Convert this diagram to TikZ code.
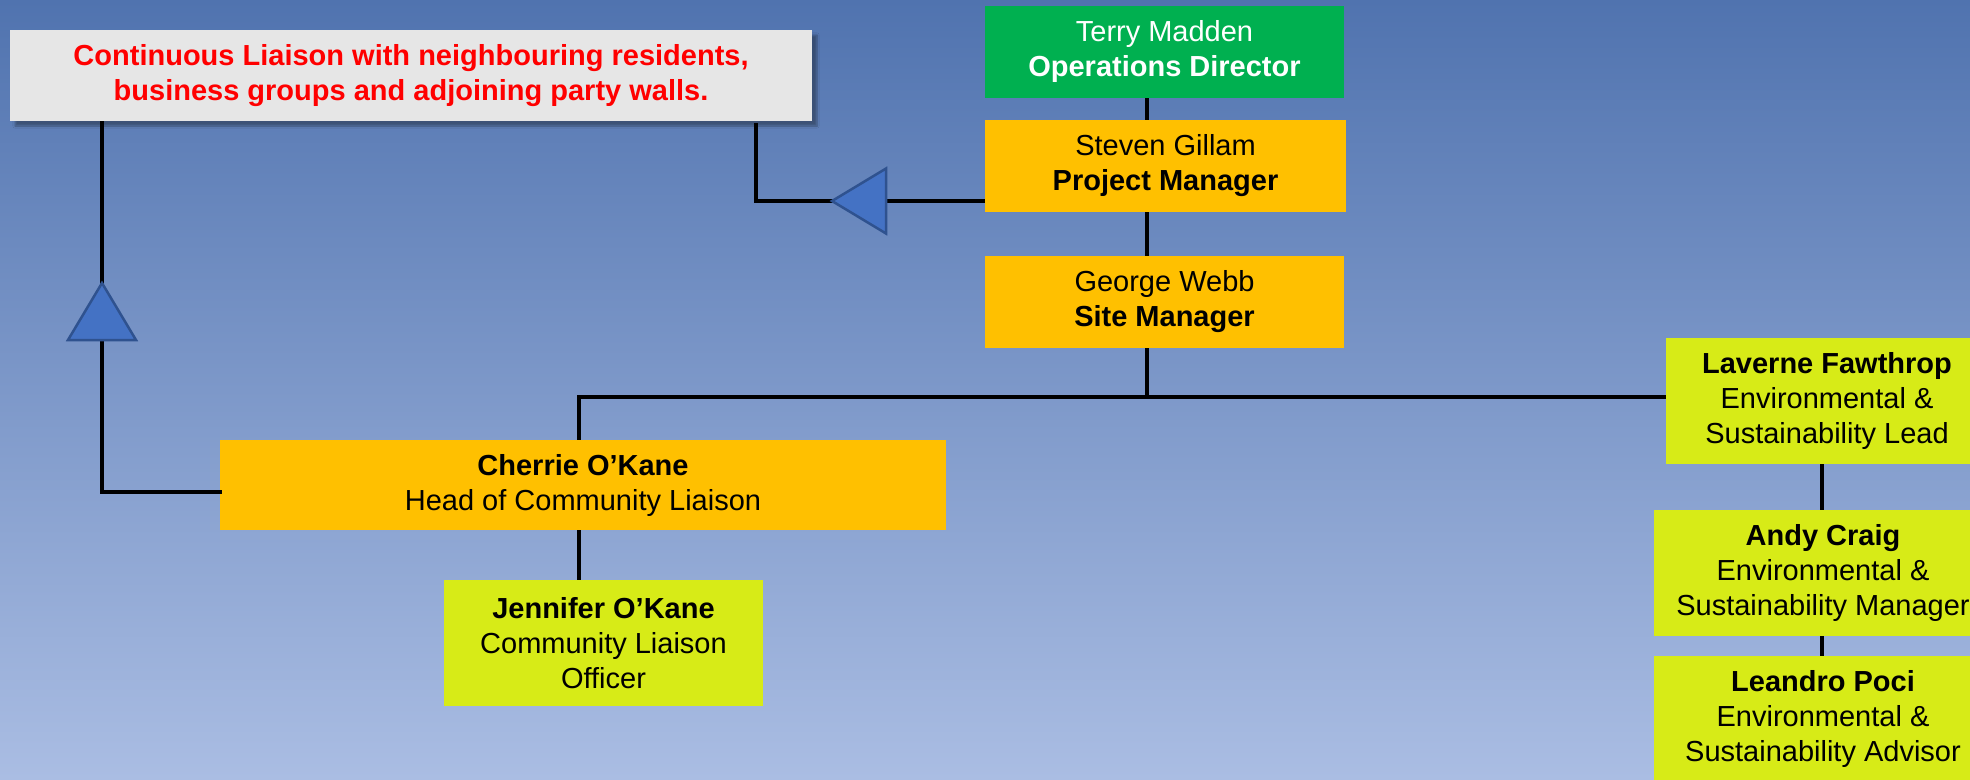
\documentclass[tikz,border=0pt]{standalone}
\usepackage{fontspec}
\setmainfont{Liberation Sans}
\usetikzlibrary{shadows.blur}
\definecolor{bgtop}{HTML}{5073AF}
\definecolor{bgmid}{HTML}{8FAADB}
\definecolor{bgbot}{HTML}{AABDE3}
\definecolor{dirgreen}{HTML}{00B050}
\definecolor{mgrorange}{HTML}{FFC000}
\definecolor{staffl}{HTML}{D7EB17}
\definecolor{calloutgray}{HTML}{E6E6E6}
\definecolor{trifill}{HTML}{4472C4}
\definecolor{triedge}{HTML}{2F528F}
\tikzset{
  box/.style={rectangle, inner sep=0pt, align=center, draw=none,
    font=\fontsize{29}{35}\selectfont},
  conn/.style={draw=black, line width=4pt},
  tri/.style={fill=trifill, draw=triedge, line width=2.5pt, line join=miter},
}
\begin{document}
\begin{tikzpicture}[x=1pt,y=-1pt]
\useasboundingbox (0,0) rectangle (1970,779);
\clip (0,0) rectangle (1970,779);
\shade[top color=bgtop, middle color=bgmid, bottom color=bgbot] (0,0) rectangle (1970,779);

% boxes
\node[box, fill=calloutgray, minimum width=802pt, minimum height=91pt, text=red,
  blur shadow={shadow xshift=5pt, shadow yshift=-5pt, shadow opacity=35, shadow blur steps=6}]
  (callout) at (411,75.5) {\bfseries Continuous Liaison with neighbouring residents,\\\bfseries business groups and adjoining party walls.};
\node[box, fill=dirgreen, text=white, minimum width=359pt, minimum height=92pt]
  (terry) at (1164.5,52) {Terry Madden\\\bfseries Operations Director};
\node[box, fill=mgrorange, minimum width=361pt, minimum height=92pt]
  (steven) at (1165.5,166) {Steven Gillam\\\bfseries Project Manager};
\node[box, fill=mgrorange, minimum width=359pt, minimum height=92pt]
  (george) at (1164.5,302) {George Webb\\\bfseries Site Manager};
\node[box, fill=mgrorange, minimum width=726pt, minimum height=90pt]
  (cherrie) at (583,485) {\bfseries Cherrie O’Kane\\Head of Community Liaison};
\node[box, fill=staffl, minimum width=319pt, minimum height=126pt]
  (jennifer) at (603.5,643) {\bfseries Jennifer O’Kane\\Community Liaison\\Officer};
\node[box, fill=staffl, minimum width=322pt, minimum height=126pt]
  (laverne) at (1827,401) {\bfseries Laverne Fawthrop\\Environmental \&\\Sustainability Lead};
\node[box, fill=staffl, minimum width=338pt, minimum height=126pt]
  (andy) at (1823,573) {\bfseries Andy Craig\\Environmental \&\\Sustainability Manager};
\node[box, fill=staffl, minimum width=338pt, minimum height=126pt]
  (leandro) at (1823,719) {\bfseries Leandro Poci\\Environmental \&\\Sustainability Advisor};

% connectors
\coordinate (vx) at (1147,0);
\coordinate (bus) at (579,397);
\draw[conn] (terry.south -| vx) -- (steven.north -| vx);
\draw[conn] (steven.south -| vx) -- (george.north -| vx);
\draw[conn] (george.south -| vx) -- (bus -| vx);
\draw[conn] (cherrie.north -| bus) -- (bus) -- (laverne.west |- bus);
\draw[conn] (cherrie.south -| bus) -- (jennifer.north -| bus);
\coordinate (rx) at (1822,0);
\draw[conn] (laverne.south -| rx) -- (andy.north -| rx);
\draw[conn] (andy.south -| rx) -- (leandro.north -| rx);

% liaison connectors
\coordinate (lx) at (102,0);
\coordinate (cy) at ([yshift=-7pt]cherrie.west);
\draw[conn, line cap=rect] (callout.south -| lx) ++(0,2) |- (cy);
\coordinate (mx) at (756,0);
\coordinate (sy) at ([yshift=-35pt]steven.west);
\draw[conn] (sy) -| ([yshift=-2pt]callout.south -| mx);

% triangles
\coordinate (t1) at (102,283);
\filldraw[tri] (t1) -- ++(34,57) -- ++(-68,0) -- cycle;
\coordinate (t2) at (832,201);
\filldraw[tri] (t2) -- ++(54,-32.5) -- ++(0,65) -- cycle;
\end{tikzpicture}
\end{document}
